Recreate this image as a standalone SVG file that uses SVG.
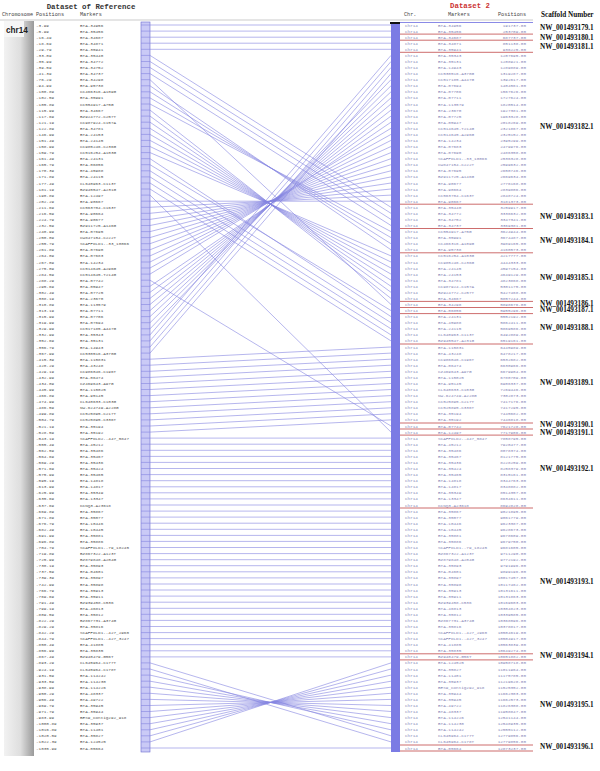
<svg xmlns="http://www.w3.org/2000/svg" width="600" height="771" viewBox="0 0 600 771">
<style>
.t{font-family:"Liberation Mono","DejaVu Sans Mono",monospace;font-size:4.3px}
.l{fill:#555}
.r{fill:#8585b5}
.hd{font-family:"Liberation Mono",monospace;font-size:5.2px;fill:#444}
.ttl{font-family:"Liberation Mono",monospace;font-weight:bold;font-size:7.4px}
.sc{font-family:"Liberation Serif","Times New Roman",serif;font-weight:bold;font-size:7.2px;fill:#111}
.sep{stroke:#c04848;stroke-width:0.8}
.con{fill:none;stroke:#8585e0;stroke-width:0.6}
</style>
<defs>
<linearGradient id="gb" x1="0" y1="0" x2="1" y2="0">
<stop offset="0" stop-color="#f2f2f2"/>
<stop offset="0.55" stop-color="#dedede"/>
<stop offset="1" stop-color="#9a9a9a"/>
</linearGradient>
</defs>
<rect width="600" height="771" fill="#fff"/>
<g id="header">
<text class="ttl" x="91" y="9" text-anchor="middle" fill="#333">Dataset of Reference</text>
<text class="ttl" x="470" y="8" text-anchor="middle" fill="#cc3333">Dataset 2</text>
<text class="hd" x="2" y="16">Chromosome</text>
<text class="hd" x="36" y="16">Positions</text>
<text class="hd" x="80" y="16">Markers</text>
<text class="hd" x="404" y="16">Chr.</text>
<text class="hd" x="448" y="16">Markers</text>
<text class="hd" x="498" y="16">Positions</text>
<text class="sc" x="541" y="17" font-size="7.8">Scaffold Number</text>
<line x1="0" y1="20" x2="533" y2="20" stroke="#aaa" stroke-width="0.6"/>
</g>
<g id="chromosome">
<rect x="4" y="21" width="30" height="735" fill="url(#gb)"/>
<rect x="4" y="21" width="20" height="16" fill="#f6f6f6"/>
<text x="6" y="33" font-family="Liberation Sans,Arial,sans-serif" font-weight="bold" font-size="8.2" fill="#222">chr14</text>
</g>
<g id="ref-list" class="t l">
<text y="26.5"><tspan x="36">-3.99</tspan><tspan x="80">BTA-34956</tspan></text>
<text y="32.6"><tspan x="36">-5.99</tspan><tspan x="80">BTA-35456</tspan></text>
<text y="38.7"><tspan x="36">-16.49</tspan><tspan x="80">BTA-34687</tspan></text>
<text y="44.7"><tspan x="36">-18.69</tspan><tspan x="80">BTA-34871</tspan></text>
<text y="50.8"><tspan x="36">-29.79</tspan><tspan x="80">BTA-35941</tspan></text>
<text y="56.9"><tspan x="36">-33.09</tspan><tspan x="80">BTA-35440</tspan></text>
<text y="63.0"><tspan x="36">-35.99</tspan><tspan x="80">BTA-34772</tspan></text>
<text y="69.0"><tspan x="36">-39.59</tspan><tspan x="80">BTA-34752</tspan></text>
<text y="75.1"><tspan x="36">-41.39</tspan><tspan x="80">BTA-34737</tspan></text>
<text y="81.2"><tspan x="36">-76.29</tspan><tspan x="80">BTA-34298</tspan></text>
<text y="87.3"><tspan x="36">-94.99</tspan><tspan x="80">BTA-95738</tspan></text>
<text y="93.3"><tspan x="36">-100.89</tspan><tspan x="80">CC466316-A109G</tspan></text>
<text y="99.4"><tspan x="36">-102.59</tspan><tspan x="80">BTA-35991</tspan></text>
<text y="105.5"><tspan x="36">-105.89</tspan><tspan x="80">CC554917-A75G</tspan></text>
<text y="111.6"><tspan x="36">-115.99</tspan><tspan x="80">BTA-34667</tspan></text>
<text y="117.6"><tspan x="36">-117.69</tspan><tspan x="80">BZ924772-C257T</tspan></text>
<text y="123.7"><tspan x="36">-121.19</tspan><tspan x="80">CC987924-C157A</tspan></text>
<text y="129.8"><tspan x="36">-122.89</tspan><tspan x="80">BTA-34781</tspan></text>
<text y="135.9"><tspan x="36">-146.99</tspan><tspan x="80">BTA-24153</tspan></text>
<text y="141.9"><tspan x="36">-151.49</tspan><tspan x="80">BTA-24145</tspan></text>
<text y="148.0"><tspan x="36">-158.99</tspan><tspan x="80">CC985246-C236G</tspan></text>
<text y="154.1"><tspan x="36">-159.79</tspan><tspan x="80">CC516254-A103G</tspan></text>
<text y="160.2"><tspan x="36">-161.49</tspan><tspan x="80">BTA-24131</tspan></text>
<text y="166.2"><tspan x="36">-165.79</tspan><tspan x="80">BTA-06856</tspan></text>
<text y="172.3"><tspan x="36">-170.39</tspan><tspan x="80">BTA-45988</tspan></text>
<text y="178.4"><tspan x="36">-171.89</tspan><tspan x="80">BTA-24115</tspan></text>
<text y="184.5"><tspan x="36">-177.49</tspan><tspan x="80">CL640963-C113T</tspan></text>
<text y="190.5"><tspan x="36">-181.19</tspan><tspan x="80">BZ945547-A231G</tspan></text>
<text y="196.6"><tspan x="36">-190.89</tspan><tspan x="80">BTA-12497</tspan></text>
<text y="202.7"><tspan x="36">-202.29</tspan><tspan x="80">BTA-90667</tspan></text>
<text y="208.8"><tspan x="36">-211.69</tspan><tspan x="80">CC563704-C163T</tspan></text>
<text y="214.8"><tspan x="36">-216.59</tspan><tspan x="80">BTA-90664</tspan></text>
<text y="220.9"><tspan x="36">-224.79</tspan><tspan x="80">BTA-90677</tspan></text>
<text y="227.0"><tspan x="36">-232.59</tspan><tspan x="80">BZ911725-A146G</tspan></text>
<text y="233.1"><tspan x="36">-240.99</tspan><tspan x="80">BTA-07695</tspan></text>
<text y="239.1"><tspan x="36">-250.09</tspan><tspan x="80">CW847154-C222T</tspan></text>
<text y="245.2"><tspan x="36">-255.79</tspan><tspan x="80">SCAFFOLD1..33_10066</tspan></text>
<text y="251.3"><tspan x="36">-261.89</tspan><tspan x="80">BTA-07690</tspan></text>
<text y="257.4"><tspan x="36">-264.09</tspan><tspan x="80">BTA-07683</tspan></text>
<text y="263.5"><tspan x="36">-267.09</tspan><tspan x="80">BTA-14234</tspan></text>
<text y="269.5"><tspan x="36">-275.09</tspan><tspan x="80">CC514645-A296G</tspan></text>
<text y="275.6"><tspan x="36">-284.59</tspan><tspan x="80">CC514645-T214G</tspan></text>
<text y="281.7"><tspan x="36">-288.29</tspan><tspan x="80">BTA-07742</tspan></text>
<text y="287.8"><tspan x="36">-295.69</tspan><tspan x="80">BTA-05947</tspan></text>
<text y="293.8"><tspan x="36">-302.49</tspan><tspan x="80">BTA-07725</tspan></text>
<text y="299.9"><tspan x="36">-308.19</tspan><tspan x="80">BTA-23670</tspan></text>
<text y="306.0"><tspan x="36">-310.89</tspan><tspan x="80">BTA-113579</tspan></text>
<text y="312.1"><tspan x="36">-313.19</tspan><tspan x="80">BTA-07711</tspan></text>
<text y="318.1"><tspan x="36">-315.99</tspan><tspan x="80">BTA-07706</tspan></text>
<text y="324.2"><tspan x="36">-319.99</tspan><tspan x="80">BTA-07694</tspan></text>
<text y="330.3"><tspan x="36">-329.99</tspan><tspan x="80">CC517185-A447G</tspan></text>
<text y="336.4"><tspan x="36">-332.99</tspan><tspan x="80">BTA-35343</tspan></text>
<text y="342.4"><tspan x="36">-352.69</tspan><tspan x="80">BTA-35131</tspan></text>
<text y="348.5"><tspan x="36">-356.79</tspan><tspan x="80">BTA-14943</tspan></text>
<text y="354.6"><tspan x="36">-367.99</tspan><tspan x="80">CC530516-A370G</tspan></text>
<text y="360.7"><tspan x="36">-415.39</tspan><tspan x="80">BTA-115831</tspan></text>
<text y="366.7"><tspan x="36">-420.29</tspan><tspan x="80">BTA-43248</tspan></text>
<text y="372.8"><tspan x="36">-429.19</tspan><tspan x="80">CC986046-C196T</tspan></text>
<text y="378.9"><tspan x="36">-432.99</tspan><tspan x="80">BTA-06474</tspan></text>
<text y="385.0"><tspan x="36">-434.09</tspan><tspan x="80">CZ469643-A97G</tspan></text>
<text y="391.0"><tspan x="36">-445.99</tspan><tspan x="80">BTA-115025</tspan></text>
<text y="397.1"><tspan x="36">-466.89</tspan><tspan x="80">BTA-95145</tspan></text>
<text y="403.2"><tspan x="36">-474.99</tspan><tspan x="80">CL640633-C103G</tspan></text>
<text y="409.3"><tspan x="36">-486.59</tspan><tspan x="80">NW-624749-A228G</tspan></text>
<text y="415.3"><tspan x="36">-499.89</tspan><tspan x="80">CC525895-C217T</tspan></text>
<text y="421.4"><tspan x="36">-504.79</tspan><tspan x="80">CC525895-C336T</tspan></text>
<text y="427.5"><tspan x="36">-521.19</tspan><tspan x="80">BTA-35194</tspan></text>
<text y="433.6"><tspan x="36">-528.59</tspan><tspan x="80">BTA-35192</tspan></text>
<text y="439.6"><tspan x="36">-543.19</tspan><tspan x="80">SCAFFOLD2..447_5847</tspan></text>
<text y="445.7"><tspan x="36">-555.49</tspan><tspan x="80">BTA-45212</tspan></text>
<text y="451.8"><tspan x="36">-562.59</tspan><tspan x="80">BTA-35486</tspan></text>
<text y="457.9"><tspan x="36">-564.69</tspan><tspan x="80">BTA-35467</tspan></text>
<text y="463.9"><tspan x="36">-569.29</tspan><tspan x="80">BTA-35436</tspan></text>
<text y="470.0"><tspan x="36">-571.69</tspan><tspan x="80">BTA-35424</tspan></text>
<text y="476.1"><tspan x="36">-575.99</tspan><tspan x="80">BTA-35465</tspan></text>
<text y="482.2"><tspan x="36">-595.19</tspan><tspan x="80">BTA-14818</tspan></text>
<text y="488.3"><tspan x="36">-613.99</tspan><tspan x="80">BTA-14817</tspan></text>
<text y="494.3"><tspan x="36">-625.99</tspan><tspan x="80">BTA-35349</tspan></text>
<text y="500.4"><tspan x="36">-635.69</tspan><tspan x="80">BTA-13347</tspan></text>
<text y="506.5"><tspan x="36">-637.69</tspan><tspan x="80">KCNQ3-A23618</tspan></text>
<text y="512.6"><tspan x="36">-669.89</tspan><tspan x="80">BTA-35867</tspan></text>
<text y="518.6"><tspan x="36">-671.89</tspan><tspan x="80">BTA-35077</tspan></text>
<text y="524.7"><tspan x="36">-676.79</tspan><tspan x="80">BTA-10446</tspan></text>
<text y="530.8"><tspan x="36">-682.49</tspan><tspan x="80">BTA-10445</tspan></text>
<text y="536.9"><tspan x="36">-691.99</tspan><tspan x="80">BTA-35881</tspan></text>
<text y="542.9"><tspan x="36">-696.89</tspan><tspan x="80">BTA-35886</tspan></text>
<text y="549.0"><tspan x="36">-704.79</tspan><tspan x="80">SCAFFOLD1..79_18245</tspan></text>
<text y="555.1"><tspan x="36">-719.89</tspan><tspan x="80">BZ867322-A123T</tspan></text>
<text y="561.2"><tspan x="36">-725.99</tspan><tspan x="80">BZ879848-A204G</tspan></text>
<text y="567.2"><tspan x="36">-730.19</tspan><tspan x="80">BTA-35893</tspan></text>
<text y="573.3"><tspan x="36">-737.59</tspan><tspan x="80">BTA-04601</tspan></text>
<text y="579.4"><tspan x="36">-739.39</tspan><tspan x="80">BTA-35897</tspan></text>
<text y="585.5"><tspan x="36">-742.99</tspan><tspan x="80">BTA-35898</tspan></text>
<text y="591.5"><tspan x="36">-766.79</tspan><tspan x="80">BTA-35913</tspan></text>
<text y="597.6"><tspan x="36">-769.69</tspan><tspan x="80">BTA-35911</tspan></text>
<text y="603.7"><tspan x="36">-791.49</tspan><tspan x="80">BZ939458-C536</tspan></text>
<text y="609.8"><tspan x="36">-799.19</tspan><tspan x="80">BTA-46813</tspan></text>
<text y="615.8"><tspan x="36">-809.59</tspan><tspan x="80">BTA-35812</tspan></text>
<text y="621.9"><tspan x="36">-822.29</tspan><tspan x="80">BZ867731-A374G</tspan></text>
<text y="628.0"><tspan x="36">-829.29</tspan><tspan x="80">BTA-35816</tspan></text>
<text y="634.1"><tspan x="36">-842.29</tspan><tspan x="80">SCAFFOLD1..427_2960</tspan></text>
<text y="640.1"><tspan x="36">-844.79</tspan><tspan x="80">SCAFFOLD1..427_3247</tspan></text>
<text y="646.2"><tspan x="36">-850.49</tspan><tspan x="80">BTA-41885</tspan></text>
<text y="652.3"><tspan x="36">-856.99</tspan><tspan x="80">BTA-35835</tspan></text>
<text y="658.4"><tspan x="36">-867.49</tspan><tspan x="80">BZ940479-G56T</tspan></text>
<text y="664.4"><tspan x="36">-893.29</tspan><tspan x="80">CL645964-C177T</tspan></text>
<text y="670.5"><tspan x="36">-924.19</tspan><tspan x="80">CL645964-C178T</tspan></text>
<text y="676.6"><tspan x="36">-931.59</tspan><tspan x="80">BTA-114242</tspan></text>
<text y="682.7"><tspan x="36">-933.59</tspan><tspan x="80">BTA-114230</tspan></text>
<text y="688.7"><tspan x="36">-938.99</tspan><tspan x="80">BTA-114226</tspan></text>
<text y="694.8"><tspan x="36">-950.29</tspan><tspan x="80">BTA-48337</tspan></text>
<text y="700.9"><tspan x="36">-956.49</tspan><tspan x="80">BTA-49722</tspan></text>
<text y="707.0"><tspan x="36">-969.79</tspan><tspan x="80">BTA-35945</tspan></text>
<text y="713.0"><tspan x="36">-971.79</tspan><tspan x="80">BTA-35944</tspan></text>
<text y="719.1"><tspan x="36">-983.99</tspan><tspan x="80">BES9_Contig292_918</tspan></text>
<text y="725.2"><tspan x="36">-1000.89</tspan><tspan x="80">BTA-35937</tspan></text>
<text y="731.3"><tspan x="36">-1016.89</tspan><tspan x="80">BTA-11401</tspan></text>
<text y="737.3"><tspan x="36">-1020.59</tspan><tspan x="80">BTA-35827</tspan></text>
<text y="743.4"><tspan x="36">-1022.39</tspan><tspan x="80">BTA-124525</tspan></text>
<text y="749.5"><tspan x="36">-1035.99</tspan><tspan x="80">BTA-05664</tspan></text>
</g>
<g id="ref-bar">
<rect x="141" y="22" width="9" height="730" fill="#cacaf6" stroke="#6b6bd0" stroke-width="0.6"/>
</g>
<g id="connectors" class="con">
<path d="M141 25H150L391 25M141 31.1H150L391 31.1M141 37.2H150L391 37.2M141 43.2H150L391 43.2M141 49.3H150L391 49.3M141 55.4H150L391 207.3M141 61.5H150L391 213.3M141 67.5H150L391 219.4M141 73.6H150L391 225.5M141 79.7H150L391 304.5M141 85.8H150L391 249.8M141 91.8H150L391 243.7M141 97.9H150L391 237.6M141 104H150L391 231.6M141 110.1H150L391 298.4M141 116.1H150L391 292.3M141 122.2H150L391 286.3M141 128.3H150L391 280.2M141 134.4H150L391 274.1M141 140.4H150L391 268M141 146.5H150L391 262M141 152.6H150L391 255.9M141 158.7H150L391 316.6M141 164.7H150L391 310.6M141 170.8H150L391 322.7M141 176.9H150L391 328.8M141 183H150L391 334.9M141 189H150L391 340.9M141 195.1H150L391 432.1M141 201.2H150L391 201.2M141 207.3H150L391 195.1M141 213.3H150L391 189M141 219.4H150L391 183M141 225.5H150L391 176.9M141 231.6H150L391 170.8M141 237.6H150L391 164.7M141 243.7H150L391 158.7M141 249.8H150L391 152.6M141 255.9H150L391 146.5M141 262H150L391 140.4M141 268H150L391 134.4M141 274.1H150L391 128.3M141 280.2H150L391 426M141 286.3H150L391 122.2M141 292.3H150L391 116.1M141 298.4H150L391 110.1M141 304.5H150L391 104M141 310.6H150L391 97.9M141 316.6H150L391 91.8M141 322.7H150L391 85.8M141 328.8H150L391 79.7M141 334.9H150L391 55.4M141 340.9H150L391 61.5M141 347H150L391 67.5M141 353.1H150L391 73.6M141 359.2H150L391 347M141 365.2H150L391 353.1M141 371.3H150L391 359.2M141 377.4H150L391 365.2M141 383.5H150L391 371.3M141 389.5H150L391 377.4M141 395.6H150L391 383.5M141 401.7H150L391 389.5M141 407.8H150L391 395.6M141 413.8H150L391 401.7M141 419.9H150L391 407.8M141 426H150L391 413.8M141 432.1H150L391 419.9M141 438.1H391M141 444.2H391M141 450.3H391M141 456.4H391M141 462.4H391M141 468.5H391M141 474.6H391M141 480.7H391M141 486.8H391M141 492.8H391M141 498.9H391M141 505H391M141 511.1H391M141 517.1H391M141 523.2H391M141 529.3H391M141 535.4H391M141 541.4H391M141 547.5H391M141 553.6H391M141 559.7H391M141 565.7H391M141 571.8H391M141 577.9H391M141 584H391M141 590H391M141 596.1H391M141 602.2H391M141 608.3H391M141 614.3H391M141 620.4H391M141 626.5H391M141 632.6H391M141 638.6H391M141 644.7H391M141 650.8H391M141 656.9H391M141 662.9H150L391 735.8M141 669H150L391 741.9M141 675.1H150L391 729.8M141 681.2H150L391 723.7M141 687.2H150L391 717.6M141 693.3H150L391 711.5M141 699.4H150L391 705.5M141 705.5H150L391 699.4M141 711.5H150L391 693.3M141 717.6H150L391 687.2M141 723.7H150L391 681.2M141 729.8H150L391 675.1M141 735.8H150L391 669M141 741.9H150L391 662.9M141 748H391"/>
</g>
<g id="target-bar">
<rect x="391" y="22" width="9" height="730" fill="#7b7be4"/>
<rect x="390" y="22" width="10" height="2" fill="#111"/>
<line x1="400" y1="22.5" x2="533" y2="22.5" stroke="#8a8ae6" stroke-width="1"/>
</g>
<g id="target-list" class="t r">
<g id="target-chr">
<text x="405" y="26.5">chr14</text><text x="405" y="32.6">chr14</text><text x="405" y="38.7">chr14</text><text x="405" y="44.7">chr14</text><text x="405" y="50.8">chr14</text><text x="405" y="56.9">chr14</text><text x="405" y="63.0">chr14</text><text x="405" y="69.0">chr14</text><text x="405" y="75.1">chr14</text><text x="405" y="81.2">chr14</text>
<text x="405" y="87.3">chr14</text><text x="405" y="93.3">chr14</text><text x="405" y="99.4">chr14</text><text x="405" y="105.5">chr14</text><text x="405" y="111.6">chr14</text><text x="405" y="117.6">chr14</text><text x="405" y="123.7">chr14</text><text x="405" y="129.8">chr14</text><text x="405" y="135.9">chr14</text><text x="405" y="141.9">chr14</text>
<text x="405" y="148.0">chr14</text><text x="405" y="154.1">chr14</text><text x="405" y="160.2">chr14</text><text x="405" y="166.2">chr14</text><text x="405" y="172.3">chr14</text><text x="405" y="178.4">chr14</text><text x="405" y="184.5">chr14</text><text x="405" y="190.5">chr14</text><text x="405" y="196.6">chr14</text><text x="405" y="202.7">chr14</text>
<text x="405" y="208.8">chr14</text><text x="405" y="214.8">chr14</text><text x="405" y="220.9">chr14</text><text x="405" y="227.0">chr14</text><text x="405" y="233.1">chr14</text><text x="405" y="239.1">chr14</text><text x="405" y="245.2">chr14</text><text x="405" y="251.3">chr14</text><text x="405" y="257.4">chr14</text><text x="405" y="263.5">chr14</text>
<text x="405" y="269.5">chr14</text><text x="405" y="275.6">chr14</text><text x="405" y="281.7">chr14</text><text x="405" y="287.8">chr14</text><text x="405" y="293.8">chr14</text><text x="405" y="299.9">chr14</text><text x="405" y="306.0">chr14</text><text x="405" y="312.1">chr14</text><text x="405" y="318.1">chr14</text><text x="405" y="324.2">chr14</text>
<text x="405" y="330.3">chr14</text><text x="405" y="336.4">chr14</text><text x="405" y="342.4">chr14</text><text x="405" y="348.5">chr14</text><text x="405" y="354.6">chr14</text><text x="405" y="360.7">chr14</text><text x="405" y="366.7">chr14</text><text x="405" y="372.8">chr14</text><text x="405" y="378.9">chr14</text><text x="405" y="385.0">chr14</text>
<text x="405" y="391.0">chr14</text><text x="405" y="397.1">chr14</text><text x="405" y="403.2">chr14</text><text x="405" y="409.3">chr14</text><text x="405" y="415.3">chr14</text><text x="405" y="421.4">chr14</text><text x="405" y="427.5">chr14</text><text x="405" y="433.6">chr14</text><text x="405" y="439.6">chr14</text><text x="405" y="445.7">chr14</text>
<text x="405" y="451.8">chr14</text><text x="405" y="457.9">chr14</text><text x="405" y="463.9">chr14</text><text x="405" y="470.0">chr14</text><text x="405" y="476.1">chr14</text><text x="405" y="482.2">chr14</text><text x="405" y="488.3">chr14</text><text x="405" y="494.3">chr14</text><text x="405" y="500.4">chr14</text><text x="405" y="506.5">chr14</text>
<text x="405" y="512.6">chr14</text><text x="405" y="518.6">chr14</text><text x="405" y="524.7">chr14</text><text x="405" y="530.8">chr14</text><text x="405" y="536.9">chr14</text><text x="405" y="542.9">chr14</text><text x="405" y="549.0">chr14</text><text x="405" y="555.1">chr14</text><text x="405" y="561.2">chr14</text><text x="405" y="567.2">chr14</text>
<text x="405" y="573.3">chr14</text><text x="405" y="579.4">chr14</text><text x="405" y="585.5">chr14</text><text x="405" y="591.5">chr14</text><text x="405" y="597.6">chr14</text><text x="405" y="603.7">chr14</text><text x="405" y="609.8">chr14</text><text x="405" y="615.8">chr14</text><text x="405" y="621.9">chr14</text><text x="405" y="628.0">chr14</text>
<text x="405" y="634.1">chr14</text><text x="405" y="640.1">chr14</text><text x="405" y="646.2">chr14</text><text x="405" y="652.3">chr14</text><text x="405" y="658.4">chr14</text><text x="405" y="664.4">chr14</text><text x="405" y="670.5">chr14</text><text x="405" y="676.6">chr14</text><text x="405" y="682.7">chr14</text><text x="405" y="688.7">chr14</text>
<text x="405" y="694.8">chr14</text><text x="405" y="700.9">chr14</text><text x="405" y="707.0">chr14</text><text x="405" y="713.0">chr14</text><text x="405" y="719.1">chr14</text><text x="405" y="725.2">chr14</text><text x="405" y="731.3">chr14</text><text x="405" y="737.3">chr14</text><text x="405" y="743.4">chr14</text><text x="405" y="749.5">chr14</text>
</g>
<g id="target-markers">
<text x="438" y="26.5">BTA-34956</text><text x="438" y="32.6">BTA-35456</text><text x="438" y="38.7">BTA-34687</text><text x="438" y="44.7">BTA-34871</text><text x="438" y="50.8">BTA-35941</text><text x="438" y="56.9">BTA-35343</text><text x="438" y="63.0">BTA-35131</text><text x="438" y="69.0">BTA-14943</text><text x="438" y="75.1">CC530516-A370G</text><text x="438" y="81.2">CC517185-A447G</text>
<text x="438" y="87.3">BTA-07694</text><text x="438" y="93.3">BTA-07706</text><text x="438" y="99.4">BTA-07711</text><text x="438" y="105.5">BTA-113579</text><text x="438" y="111.6">BTA-23670</text><text x="438" y="117.6">BTA-07725</text><text x="438" y="123.7">BTA-05947</text><text x="438" y="129.8">CC514645-T214G</text><text x="438" y="135.9">CC514645-A296G</text><text x="438" y="141.9">BTA-14234</text>
<text x="438" y="148.0">BTA-07683</text><text x="438" y="154.1">BTA-07690</text><text x="438" y="160.2">SCAFFOLD1..33_10066</text><text x="438" y="166.2">CW847154-C222T</text><text x="438" y="172.3">BTA-07695</text><text x="438" y="178.4">BZ911725-A146G</text><text x="438" y="184.5">BTA-90677</text><text x="438" y="190.5">BTA-90664</text><text x="438" y="196.6">CC563704-C163T</text><text x="438" y="202.7">BTA-90667</text>
<text x="438" y="208.8">BTA-35440</text><text x="438" y="214.8">BTA-34772</text><text x="438" y="220.9">BTA-34752</text><text x="438" y="227.0">BTA-34737</text><text x="438" y="233.1">CC554917-A75G</text><text x="438" y="239.1">BTA-35991</text><text x="438" y="245.2">CC466316-A109G</text><text x="438" y="251.3">BTA-95738</text><text x="438" y="257.4">CC516254-A103G</text><text x="438" y="263.5">CC985246-C236G</text>
<text x="438" y="269.5">BTA-24145</text><text x="438" y="275.6">BTA-24153</text><text x="438" y="281.7">BTA-34781</text><text x="438" y="287.8">CC987924-C157A</text><text x="438" y="293.8">BZ924772-C257T</text><text x="438" y="299.9">BTA-34667</text><text x="438" y="306.0">BTA-34298</text><text x="438" y="312.1">BTA-06856</text><text x="438" y="318.1">BTA-24131</text><text x="438" y="324.2">BTA-45988</text>
<text x="438" y="330.3">BTA-24115</text><text x="438" y="336.4">CL640963-C113T</text><text x="438" y="342.4">BZ945547-A231G</text><text x="438" y="348.5">BTA-115831</text><text x="438" y="354.6">BTA-43248</text><text x="438" y="360.7">CC986046-C196T</text><text x="438" y="366.7">BTA-06474</text><text x="438" y="372.8">CZ469643-A97G</text><text x="438" y="378.9">BTA-115025</text><text x="438" y="385.0">BTA-95145</text>
<text x="438" y="391.0">CL640633-C103G</text><text x="438" y="397.1">NW-624749-A228G</text><text x="438" y="403.2">CC525895-C217T</text><text x="438" y="409.3">CC525895-C336T</text><text x="438" y="415.3">BTA-35194</text><text x="438" y="421.4">BTA-35192</text><text x="438" y="427.5">BTA-07742</text><text x="438" y="433.6">BTA-12497</text><text x="438" y="439.6">SCAFFOLD2..447_5847</text><text x="438" y="445.7">BTA-45212</text>
<text x="438" y="451.8">BTA-35486</text><text x="438" y="457.9">BTA-35467</text><text x="438" y="463.9">BTA-35436</text><text x="438" y="470.0">BTA-35424</text><text x="438" y="476.1">BTA-35465</text><text x="438" y="482.2">BTA-14818</text><text x="438" y="488.3">BTA-14817</text><text x="438" y="494.3">BTA-35349</text><text x="438" y="500.4">BTA-13347</text><text x="438" y="506.5">KCNQ3-A23618</text>
<text x="438" y="512.6">BTA-35867</text><text x="438" y="518.6">BTA-35077</text><text x="438" y="524.7">BTA-10446</text><text x="438" y="530.8">BTA-10445</text><text x="438" y="536.9">BTA-35881</text><text x="438" y="542.9">BTA-35886</text><text x="438" y="549.0">SCAFFOLD1..79_18245</text><text x="438" y="555.1">BZ867322-A123T</text><text x="438" y="561.2">BZ879848-A204G</text><text x="438" y="567.2">BTA-35893</text>
<text x="438" y="573.3">BTA-04601</text><text x="438" y="579.4">BTA-35897</text><text x="438" y="585.5">BTA-35898</text><text x="438" y="591.5">BTA-35913</text><text x="438" y="597.6">BTA-35911</text><text x="438" y="603.7">BZ939458-C536</text><text x="438" y="609.8">BTA-46813</text><text x="438" y="615.8">BTA-35812</text><text x="438" y="621.9">BZ867731-A374G</text><text x="438" y="628.0">BTA-35816</text>
<text x="438" y="634.1">SCAFFOLD1..427_2960</text><text x="438" y="640.1">SCAFFOLD1..427_3247</text><text x="438" y="646.2">BTA-41885</text><text x="438" y="652.3">BTA-35835</text><text x="438" y="658.4">BZ940479-G56T</text><text x="438" y="664.4">BTA-124525</text><text x="438" y="670.5">BTA-35827</text><text x="438" y="676.6">BTA-11401</text><text x="438" y="682.7">BTA-35937</text><text x="438" y="688.7">BES9_Contig292_918</text>
<text x="438" y="694.8">BTA-35944</text><text x="438" y="700.9">BTA-35945</text><text x="438" y="707.0">BTA-49722</text><text x="438" y="713.0">BTA-48337</text><text x="438" y="719.1">BTA-114226</text><text x="438" y="725.2">BTA-114230</text><text x="438" y="731.3">BTA-114242</text><text x="438" y="737.3">CL645964-C177T</text><text x="438" y="743.4">CL645964-C178T</text><text x="438" y="749.5">BTA-05664</text>
</g>
<g id="target-positions" text-anchor="end">
<text x="526" y="26.5">191737.00</text><text x="526" y="32.6">253709.00</text><text x="526" y="38.7">687737.00</text><text x="526" y="44.7">851138.00</text><text x="526" y="50.8">936225.00</text><text x="526" y="56.9">1207695.00</text><text x="526" y="63.0">1208921.00</text><text x="526" y="69.0">1289889.00</text><text x="526" y="75.1">1319287.00</text><text x="526" y="81.2">1392617.00</text>
<text x="526" y="87.3">1404561.00</text><text x="526" y="93.3">1567626.00</text><text x="526" y="99.4">1727624.00</text><text x="526" y="105.5">1820514.00</text><text x="526" y="111.6">1927381.00</text><text x="526" y="117.6">1963328.00</text><text x="526" y="123.7">2018269.00</text><text x="526" y="129.8">2321867.00</text><text x="526" y="135.9">2325152.00</text><text x="526" y="141.9">2395299.00</text>
<text x="526" y="148.0">2479976.00</text><text x="526" y="154.1">2486358.00</text><text x="526" y="160.2">2536328.00</text><text x="526" y="166.2">2599632.00</text><text x="526" y="172.3">2650746.00</text><text x="526" y="178.4">2669634.00</text><text x="526" y="184.5">2776168.00</text><text x="526" y="190.5">2839806.00</text><text x="526" y="196.6">2848724.00</text><text x="526" y="202.7">3181373.00</text>
<text x="526" y="208.8">3259917.00</text><text x="526" y="214.8">3336632.00</text><text x="526" y="220.9">3347341.00</text><text x="526" y="227.0">3369381.00</text><text x="526" y="233.1">3624944.00</text><text x="526" y="239.1">3674487.00</text><text x="526" y="245.2">3989165.00</text><text x="526" y="251.3">4160573.00</text><text x="526" y="257.4">4217777.00</text><text x="526" y="263.5">4444333.00</text>
<text x="526" y="269.5">4597154.00</text><text x="526" y="275.6">4649129.00</text><text x="526" y="281.7">4823868.00</text><text x="526" y="287.8">5301175.00</text><text x="526" y="293.8">5427468.00</text><text x="526" y="299.9">5857244.00</text><text x="526" y="306.0">5898676.00</text><text x="526" y="312.1">5955296.00</text><text x="526" y="318.1">5552192.00</text><text x="526" y="324.2">5862411.00</text>
<text x="526" y="330.3">5869586.00</text><text x="526" y="336.4">6492889.00</text><text x="526" y="342.4">6519161.00</text><text x="526" y="348.5">6445989.00</text><text x="526" y="354.6">6478217.00</text><text x="526" y="360.7">6532682.00</text><text x="526" y="366.7">6630966.00</text><text x="526" y="372.8">6679904.00</text><text x="526" y="378.9">6780709.00</text><text x="526" y="385.0">6906337.00</text>
<text x="526" y="391.0">7269446.00</text><text x="526" y="397.1">7302873.00</text><text x="526" y="403.2">7417176.00</text><text x="526" y="409.3">7417295.00</text><text x="526" y="415.3">7445682.00</text><text x="526" y="421.4">7446818.00</text><text x="526" y="427.5">7621728.00</text><text x="526" y="433.6">7717906.00</text><text x="526" y="439.6">7858795.00</text><text x="526" y="445.7">7920477.00</text>
<text x="526" y="451.8">8078374.00</text><text x="526" y="457.9">8121775.00</text><text x="526" y="463.9">8228259.00</text><text x="526" y="470.0">8258379.00</text><text x="526" y="476.1">8315161.00</text><text x="526" y="482.2">8344763.00</text><text x="526" y="488.3">8348882.00</text><text x="526" y="494.3">8514357.00</text><text x="526" y="500.4">8634611.00</text><text x="526" y="506.5">8692828.00</text>
<text x="526" y="512.6">9021895.00</text><text x="526" y="518.6">9061779.00</text><text x="526" y="524.7">9623387.00</text><text x="526" y="530.8">9628673.00</text><text x="526" y="536.9">9678609.00</text><text x="526" y="542.9">9679750.00</text><text x="526" y="549.0">9681605.00</text><text x="526" y="555.1">9711290.00</text><text x="526" y="561.2">9772192.00</text><text x="526" y="567.2">9791996.00</text>
<text x="526" y="573.3">9899196.00</text><text x="526" y="579.4">10017457.00</text><text x="526" y="585.5">10117462.00</text><text x="526" y="591.5">10131611.00</text><text x="526" y="597.6">10131863.00</text><text x="526" y="603.7">10169603.00</text><text x="526" y="609.8">10304823.00</text><text x="526" y="615.8">10339585.00</text><text x="526" y="621.9">10368096.00</text><text x="526" y="628.0">10378817.00</text>
<text x="526" y="634.1">10504619.00</text><text x="526" y="640.1">10504917.00</text><text x="526" y="646.2">10563839.00</text><text x="526" y="652.3">10649274.00</text><text x="526" y="658.4">10651882.00</text><text x="526" y="664.4">10958718.00</text><text x="526" y="670.5">11011964.00</text><text x="526" y="676.6">11175785.00</text><text x="526" y="682.7">11219628.00</text><text x="526" y="688.7">11525352.00</text>
<text x="526" y="694.8">11662303.00</text><text x="526" y="700.9">11662573.00</text><text x="526" y="707.0">11826308.00</text><text x="526" y="713.0">11958847.00</text><text x="526" y="719.1">12541144.00</text><text x="526" y="725.2">12548935.00</text><text x="526" y="731.3">12555112.00</text><text x="526" y="737.3">12779856.00</text><text x="526" y="743.4">12779856.00</text><text x="526" y="749.5">12873237.00</text>
</g>
</g>
<g id="separators" class="sep">
<path d="M400 34.1H533M400 40.2H533M400 52.3H533M400 204.2H533M400 228.5H533M400 252.8H533M400 301.4H533M400 307.5H533M400 313.6H533M400 344H533M400 423H533M400 429H533M400 435.1H533M400 508H533M400 653.8H533M400 659.9H533M400 745H533M400 751H533"/>
</g>
<g id="scaffolds" class="sc">
<text x="540" y="30.3">NW_001493179.1</text>
<text x="540" y="39.5">NW_001493180.1</text>
<text x="540" y="48.6">NW_001493181.1</text>
<text x="540" y="129.3">NW_001493182.1</text>
<text x="540" y="218.7">NW_001493183.1</text>
<text x="540" y="243">NW_001493184.1</text>
<text x="540" y="280.3">NW_001493185.1</text>
<text x="540" y="305.8">NW_001493186.1</text>
<text x="540" y="311.8">NW_001493187.1</text>
<text x="540" y="330.3">NW_001493188.1</text>
<text x="540" y="385.3">NW_001493189.1</text>
<text x="540" y="427.3">NW_001493190.1</text>
<text x="540" y="434.6">NW_001493191.1</text>
<text x="540" y="471.3">NW_001493192.1</text>
<text x="540" y="584.3">NW_001493193.1</text>
<text x="540" y="658.3">NW_001493194.1</text>
<text x="540" y="707.3">NW_001493195.1</text>
<text x="540" y="749.3">NW_001493196.1</text>
</g>
</svg>
